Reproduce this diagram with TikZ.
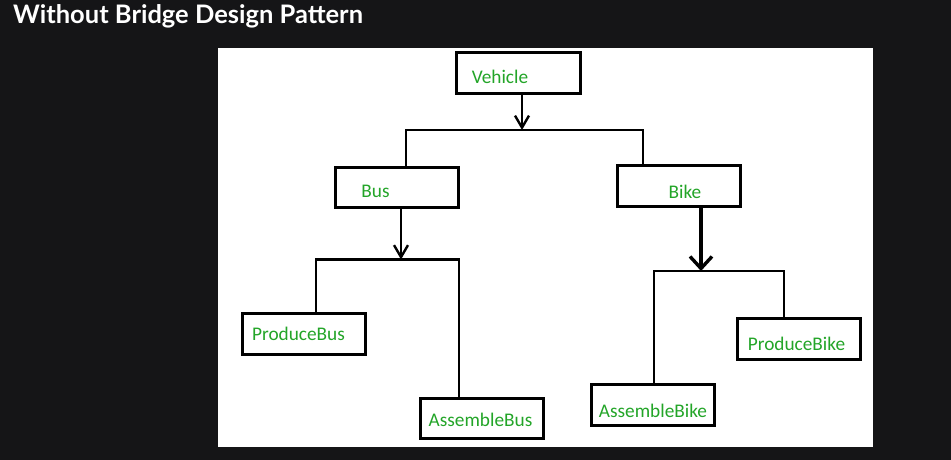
\documentclass[tikz,border=0pt]{standalone}
\usepackage{fontspec}
\setmainfont{Carlito}
\newfontfamily\titlefont{Lato}
\usetikzlibrary{arrows.meta}
\definecolor{pagebg}{RGB}{21,21,23}
\definecolor{labelgreen}{RGB}{35,165,40}
\begin{document}
\begin{tikzpicture}[x=1pt, y=-1pt,
  classbox/.style={rectangle, draw, line width=2.6pt, minimum width=123.5pt, minimum height=40.5pt, inner sep=0pt},
  boxtext/.style={text=labelgreen, font=\fontsize{19.3}{22}\selectfont},
  link/.style={line width=2.4pt},
  linkarrow/.style={line width=2.4pt, -{Straight Barb[length=12pt, width=14pt]}},
  bigarrow/.style={line width=3.4pt, -{Straight Barb[length=12pt, width=22pt]}}]
  % Background
  \useasboundingbox (0,0) rectangle (951,460);
  \fill[pagebg] (0,0) rectangle (951,460);
  \fill[white] (218,48) rectangle (873,447);
  % Header
  \node (TITLE) [anchor=base west, inner sep=0pt, text=white, font=\titlefont\bfseries\fontsize{25.5}{30}\selectfont] at (13,24) {Without Bridge Design Pattern};
  % Nodes
  \node (VEH) [classbox, label={[boxtext, xshift=-18.5pt, yshift=-4pt]center:Vehicle}] at (518.5,73) {};
  \node (BUS) [classbox, label={[boxtext, xshift=-21.5pt, yshift=-3.5pt]center:Bus}] at (397,187.5) {};
  \node (BIKE) [classbox, label={[boxtext, xshift=6pt, yshift=-6pt]center:Bike}] at (679,186) {};
  \node (PBUS) [classbox, label={[boxtext, xshift=-5.5pt]center:ProduceBus}] at (304,334) {};
  \node (ABUS) [classbox, label={[boxtext, xshift=-1.5pt, yshift=-1.5pt]center:AssembleBus}] at (482,418.5) {};
  \node (ABIKE) [classbox, label={[boxtext, yshift=-5.5pt]center:AssembleBike}] at (653,405) {};
  \node (PBIKE) [classbox, label={[boxtext, xshift=-2.5pt, yshift=-5pt]center:ProduceBike}] at (799,339) {};
  % Junctions
  \coordinate (VM) at (522,130);
  \coordinate (VL) at (406,130);
  \coordinate (VR) at (643,130);
  \coordinate (BM) at (401,259.5);
  \coordinate (BL) at (316,259.5);
  \coordinate (BR) at (459,259.5);
  \coordinate (KM) at (701,271);
  \coordinate (KL) at (654,271);
  \coordinate (KR) at (784,271);
  % Arrows
  \draw[linkarrow] (VEH.south -| VM) -- (VM);
  \draw[link] (BUS.north -| VL) -- (VL) -- (VR) -- (BIKE.north -| VR);
  \draw[linkarrow] (BUS.south -| BM) -- (BM);
  \draw[link] (PBUS.north -| BL) -- (BL) -- (BR) -- (ABUS.north -| BR);
  \draw[bigarrow] (BIKE.south -| KM) -- (KM);
  \draw[link] (ABIKE.north -| KL) -- (KL) -- (KR) -- (PBIKE.north -| KR);
\end{tikzpicture}
\end{document}
